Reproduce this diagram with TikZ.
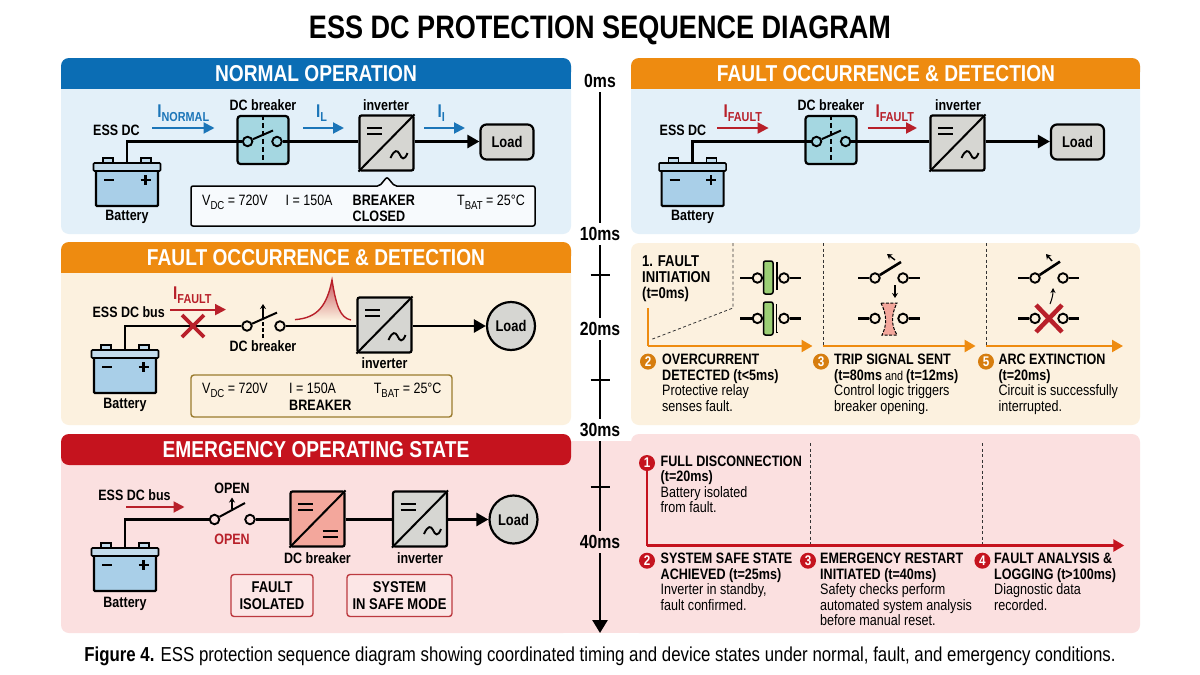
\documentclass[tikz,border=0pt]{standalone}
\usepackage{fontspec}
\setmainfont{Liberation Sans}[FakeStretch=0.833]
\usetikzlibrary{arrows.meta}
\definecolor{blueh}{HTML}{0B6DB4}
\definecolor{blueb}{HTML}{E3F0F9}
\definecolor{orah}{HTML}{EE8B10}
\definecolor{orab}{HTML}{FCF1DF}
\definecolor{redh}{HTML}{C5131E}
\definecolor{redb}{HTML}{FBE0E0}
\definecolor{flowb}{HTML}{1B75B8}
\definecolor{flowr}{HTML}{B8202A}
\definecolor{battc}{HTML}{A9CFE8}
\definecolor{capc}{HTML}{C3DCEC}
\definecolor{brkc}{HTML}{A5D7E1}
\definecolor{invc}{HTML}{D6D6D2}
\definecolor{salm}{HTML}{F3A79C}
\definecolor{gren}{HTML}{9CCF75}
\definecolor{goldb}{HTML}{9A7B2E}
\definecolor{redbox}{HTML}{BC3A40}
\newcommand{\fs}[2][1.1]{\dimen0=#2pt \dimen0=#1\dimen0 \fontsize{#2}{\the\dimen0}\selectfont}
\newcommand{\subtxt}[2][13]{\raisebox{-.24em}{\fontsize{#1}{#1}\selectfont #2}}
\tikzset{
  wire/.style={line width=2.6pt},
  wirea/.style={line width=2.6pt,-{Triangle[length=12pt,width=13pt]}},
  flowa/.style={line width=2pt,-{Triangle[length=11pt,width=11pt]}},
  contact/.style={circle,draw,line width=1.9pt,inner sep=0pt,minimum size=9.5pt},
  loadbox/.style={draw,line width=2.2pt,fill=invc,rounded corners=6pt,minimum width=53pt,minimum height=35pt,font=\fs{15.5}\bfseries},
  loadcirc/.style={circle,draw,line width=2.2pt,fill=invc,inner sep=0pt,minimum size=48pt,font=\fs{15.5}\bfseries},
  devlab/.style={font=\fs{15}\bfseries,inner sep=0pt},
  infotxt/.style={anchor=base west,font=\fs{15},inner sep=0pt},
  infobold/.style={anchor=base west,font=\fs{15.1}\bfseries,inner sep=0pt},
  headtxt/.style={font=\fs{23}\bfseries,text=white,inner sep=0pt},
  timelab/.style={font=\fs{19}\bfseries,inner sep=0pt,minimum height=22pt,minimum width=40pt},
  tline/.style={line width=2.6pt},
  steptxt/.style={anchor=north west,align=left,inner sep=0pt,font={\fs[1.03]{15.1}}},
  numo/.style={circle,fill=orah!90!black,text=white,inner sep=0pt,minimum size=16pt,font=\fs{14}\bfseries},
  numr/.style={circle,fill=redh,text=white,inner sep=0pt,minimum size=16pt,font=\fs{14}\bfseries},
  axiso/.style={line width=2.4pt,draw=orah},
  axisr/.style={line width=2.6pt,draw=redh},
  guide/.style={line width=.8pt,dashed,dash pattern=on 3pt off 2.5pt,draw=black!80},
  redtag/.style={draw=redbox,line width=1.4pt,rounded corners=3pt,fill=redb!80!white,align=center,font=\fs{15.6}\bfseries,inner sep=0pt},
}
% battery: name, centre x, top of cap
\newcommand{\battery}[3]{
\begin{scope}[shift={(#2,#3)}]
\draw[line width=1.6pt,fill=capc] (-24,-5) rectangle (-14,0) (14,-5) rectangle (24,0);
\draw[line width=2.2pt,fill=battc,rounded corners=1pt] (-31,4) rectangle (31,43);
\node (#1)[draw,line width=1.6pt,fill=capc,rounded corners=1pt,inner sep=0pt,minimum width=67pt,minimum height=8pt] at (0,4) {};
\draw[line width=2.2pt] (-23,17) -- (-13,17) (13.5,17) -- (23.5,17) (18.5,12) -- (18.5,22);
\end{scope}}
% converter box: name, centre x, centre y, fill
\newcommand{\conv}[4]{
\node (#1)[draw,line width=2.2pt,fill=#4,rounded corners=2pt,inner sep=0pt,minimum width=54pt,minimum height=55pt] at (#2,#3) {};
\draw[line width=2pt] (#1.south west) -- (#1.north east);
\draw[line width=1.8pt] (#2-19.5,#3-15) -- +(15,0) (#2-19.5,#3-9) -- +(15,0);
}
\newcommand{\acsym}[2]{\draw[line width=1.9pt] (#1+4,#2+15) .. controls (#1+8,#2+6) and (#1+11,#2+7) .. (#1+13,#2+11) .. controls (#1+15,#2+16) and (#1+18,#2+18) .. (#1+21,#2+10);}
\begin{document}
\begin{tikzpicture}[x=1pt,y=-1pt]
\useasboundingbox (0,0) rectangle (1200,675);
\fill[white] (0,0) rectangle (1200,675);
\node (TT)[font=\fs{32.5}\bfseries,inner sep=0pt] at (600,30) {ESS DC PROTECTION SEQUENCE DIAGRAM};

%%% panels
\fill[redb] (560,441) rectangle (640,633);
\fill[blueb,rounded corners=8pt] (61,58) rectangle (571,234);
\fill[orab,rounded corners=8pt] (61,242) rectangle (571,425);
\fill[redb,rounded corners=8pt] (61,434) rectangle (571,633);
\fill[blueb,rounded corners=8pt] (631,58) rectangle (1140,234);
\fill[orab,rounded corners=8pt] (631,243) rectangle (1140,425);
\fill[redb,rounded corners=8pt] (631,434) rectangle (1140,633);
\fill[blueh,rounded corners=8pt] (61,58) rectangle (571,80);
\fill[blueh] (61,70) rectangle (571,89);
\fill[orah,rounded corners=8pt] (61,242) rectangle (571,264);
\fill[orah] (61,254) rectangle (571,273);
\fill[redh,rounded corners=8pt] (61,434) rectangle (571,465);
\fill[orah,rounded corners=8pt] (631,58) rectangle (1140,80);
\fill[orah] (631,70) rectangle (1140,89);
\node (H1)[headtxt] at (316,74) {NORMAL OPERATION};
\node (H2)[headtxt] at (316,258) {FAULT OCCURRENCE \& DETECTION};
\node (H3)[headtxt] at (316,450) {EMERGENCY OPERATING STATE};
\node (H4)[headtxt] at (886,74) {FAULT OCCURRENCE \& DETECTION};

%%% time axis
\node (M0)[timelab] at (600,81) {0ms};
\node (M1)[timelab] at (600,234) {10ms};
\node (M2)[timelab] at (600,329) {20ms};
\node (M3)[timelab] at (600,430) {30ms};
\node (M4)[timelab] at (600,542) {40ms};
\coordinate (M5) at (600,633);
\draw[tline] (M0)--(M1);
\draw[tline] (M1)--(M2);
\draw[tline] (M2)--(M3);
\draw[tline] (M3)--(M4);
\draw[tline,-{Triangle[length=13pt,width=15pt]}] (M4)--(M5);
\draw[line width=1.4pt] (600,275) +(-9.5,0) -- +(9.5,0);
\draw[line width=1.4pt] (600,380) +(-9.5,0) -- +(9.5,0);
\draw[line width=1.4pt] (600,487) +(-9.5,0) -- +(9.5,0);

%%% normal operation
\battery{B1}{127}{163}
\node (Y1)[devlab] at (127,217) {Battery};
\node (E1)[devlab] at (116.5,130) {ESS DC};
\node (S1)[draw,line width=2.2pt,fill=brkc,rounded corners=3pt,inner sep=0pt,minimum width=51pt,minimum height=48pt] at (263,140) {};
\draw[line width=1.4pt,dashed,dash pattern=on 5pt off 3pt] (S1.north) -- (S1.south);
\node (K11)[contact] at (247.6,141.5) {};
\node (K12)[contact] at (277,141.5) {};
\coordinate (K13) at (273,130.5);
\draw[line width=2pt] (K11)--(K13);
\conv{V1}{386.5}{143}{invc}
\acsym{386.5}{143}
\node (L1)[loadbox] at (507,142) {Load};
\draw[wire] (B1.north) |- (K11);
\draw[wire] (K12)--(K12-|V1.west);
\draw[wirea] (V1.east|-K12)--(L1.west|-K12);
\node (D1)[devlab] at (263,105) {DC breaker};
\node (D2)[devlab] at (386,105) {inverter};
\draw (152,128) coordinate (A11) +(62.5,0) coordinate (A12);
\draw[flowa,draw=flowb] (A11)--(A12) node (F1)[pos=.5,above=2pt,text=flowb,font=\fs{18.4}\bfseries] {I\subtxt{NORMAL}};
\draw (303,128) coordinate (A21) +(41,0) coordinate (A22);
\draw[flowa,draw=flowb] (A21)--(A22) node (F2)[pos=.45,above=2pt,text=flowb,font=\fs{18.4}\bfseries] {I\subtxt{L}};
\draw (424,128) coordinate (A31) +(41,0) coordinate (A32);
\draw[flowa,draw=flowb] (A31)--(A32) node (F3)[pos=.42,above=2pt,text=flowb,font=\fs{18.4}\bfseries] {I\subtxt{I}};
\draw[line width=1.5pt,fill=white!70!blueb,rounded corners=2pt] (191,186) -- (379.5,186) -- (387,177) -- (394.6,186) -- (535,186) -- (535,226) -- (191,226) -- cycle;
\node (I11)[infotxt] at (202,205.5) {V\subtxt[11.5]{DC} = 720V};
\node (I12)[infotxt] at (285.5,205.5) {I = 150A};
\node (I13)[infobold] at (352.5,205.5) {BREAKER};
\node (I14)[infobold] at (352.5,221) {CLOSED};
\node (I15)[infotxt] at (457,205.5) {T\subtxt[11.5]{BAT} = 25°C};

%%% fault occurrence, left
\battery{B2}{125}{350}
\node (Y2)[devlab] at (125,405) {Battery};
\node (E2)[devlab] at (128.7,312) {ESS DC bus};
\node (K21)[contact] at (247,326) {};
\node (K22)[contact] at (280,326) {};
\coordinate (K23) at (277,312.6);
\draw[line width=2pt] (K21)--(K23);
\draw[line width=1.4pt,dashed,dash pattern=on 4pt off 2pt] (263,338) -- (263,318);
\draw[line width=1.4pt,-{Stealth[length=5pt,width=6pt]}] (263,318) -- (263,304);
\conv{V2}{384.5}{325}{invc}
\acsym{384.5}{325}
\node (L2)[loadcirc] at (511,326) {Load};
\draw[wire] (B2.north) |- (K21);
\draw[wire] (K22)--(K22-|V2.west);
\draw[wirea] (V2.east|-K22)--(L2.west);
\node (D3)[devlab] at (263,346.5) {DC breaker};
\node (D4)[devlab] at (384.5,363) {inverter};
\draw (170,309.6) coordinate (A41) +(56,0) coordinate (A42);
\draw[flowa,draw=flowr] (A41)--(A42) node (F4)[pos=.4,above=1.5pt,text=flowr,font=\fs{18.4}\bfseries] {I\subtxt{FAULT}};
\draw[line width=3.8pt,draw=flowr] (182,315) -- (204,337) (204,315) -- (182,337);
\shade[top color=flowr!75,bottom color=orab] (295,319.6) .. controls (318,318) and (327,305) .. (332,280) .. controls (336,305) and (340,318) .. (351,320) -- cycle;
\draw[line width=1.4pt,draw=flowr] (295,319.6) .. controls (318,318) and (327,305) .. (332,280) .. controls (336,305) and (340,318) .. (351,320);
\node (Q2)[draw=goldb,line width=1.4pt,rounded corners=3pt,inner sep=0pt,minimum width=261pt,minimum height=42pt] at (321.5,396) {};
\node (I21)[infotxt] at (202,393.5) {V\subtxt[11.5]{DC} = 720V};
\node (I22)[infotxt] at (289,393.5) {I = 150A};
\node (I23)[infobold] at (289,410.5) {BREAKER};
\node (I24)[infotxt] at (373.6,393.5) {T\subtxt[11.5]{BAT} = 25°C};

%%% emergency state
\battery{B3}{125}{548}
\node (Y3)[devlab] at (125,604) {Battery};
\node (E3)[devlab] at (134.5,495) {ESS DC bus};
\node (K31)[contact] at (214.5,519.5) {};
\node (K32)[contact] at (250,519.5) {};
\coordinate (K33) at (245,503);
\draw[line width=2pt] (K31)--(K33);
\node (O1)[devlab] at (232,488) {OPEN};
\node (O2)[devlab,text=flowr] at (232,539) {OPEN};
\draw[line width=1.3pt,-{Stealth[length=5pt,width=6pt]}] (232,509) -- (232,497.5);
\conv{S3}{317.5}{519}{salm}
\draw[line width=1.8pt] (322.5,531) -- +(15,0) (322.5,537) -- +(15,0);
\conv{V3}{420}{519}{invc}
\acsym{420}{519}
\node (L3)[loadcirc] at (513.5,519.5) {Load};
\draw[wire] (B3.north) |- (K31);
\draw[wire] (K32)--(K32-|S3.west);
\draw[wire] (S3.east|-K32)--(V3.west|-K32);
\draw[wirea] (V3.east|-K32)--(L3.west);
\node (D5)[devlab] at (317.5,558) {DC breaker};
\node (D6)[devlab] at (420,558) {inverter};
\draw (126,507) coordinate (A51) +(58.5,0) coordinate (A52);
\draw[flowa,draw=flowr] (A51)--(A52);
\node (R1)[redtag,minimum width=82pt,minimum height=42pt] at (272,595.5) {FAULT\\ISOLATED};
\node (R2)[redtag,minimum width=105pt,minimum height=42pt] at (399.5,595.5) {SYSTEM\\IN SAFE MODE};

%%% fault occurrence, right
\battery{B4}{692.6}{163}
\node (Y4)[devlab] at (692.6,217) {Battery};
\node (E4)[devlab] at (683,130) {ESS DC};
\node (S4)[draw,line width=2.2pt,fill=brkc,rounded corners=3pt,inner sep=0pt,minimum width=51pt,minimum height=48pt] at (831,140) {};
\draw[line width=1.4pt,dashed,dash pattern=on 5pt off 3pt] (S4.north) -- (S4.south);
\node (K41)[contact] at (816.5,141.5) {};
\node (K42)[contact] at (845.6,141.5) {};
\coordinate (K43) at (841,130.5);
\draw[line width=2pt] (K41)--(K43);
\conv{V4}{957.5}{143}{invc}
\acsym{957.5}{143}
\node (L4)[loadbox] at (1077.5,142) {Load};
\draw[wire] (B4.north) |- (K41);
\draw[wire] (K42)--(K42-|V4.west);
\draw[wirea] (V4.east|-K42)--(L4.west|-K42);
\node (D7)[devlab] at (831,105) {DC breaker};
\node (D8)[devlab] at (958,105) {inverter};
\draw (717,128) coordinate (A61) +(51.6,0) coordinate (A62);
\draw[flowa,draw=flowr] (A61)--(A62) node (F6)[pos=.5,above=2pt,text=flowr,font=\fs{18.4}\bfseries] {I\subtxt{FAULT}};
\draw (867.6,128) coordinate (A71) +(49.4,0) coordinate (A72);
\draw[flowa,draw=flowr] (A71)--(A72) node (F7)[pos=.55,above=2pt,text=flowr,font=\fs{18.4}\bfseries] {I\subtxt{FAULT}};

%%% detection timeline
\draw (733,243) coordinate (G1) (733,308) coordinate (G2) (650,340) coordinate (G3);
\draw[guide] (G1)--(G2)--(G3);
\draw (823,243) coordinate (G4) (823,346) coordinate (G5);
\draw[guide] (G4)--(G5);
\draw (986.5,243) coordinate (G6) (986.5,346) coordinate (G7);
\draw[guide] (G6)--(G7);
\draw (648,308) coordinate (P0) (648,346) coordinate (P1) +(164.5,0) coordinate (P2);
\draw (822.6,346) coordinate (P3) +(153,0) coordinate (P4);
\draw (986,346) coordinate (P5) +(137,0) coordinate (P6);
\draw[axiso] (P0)--(P1);
\draw[axiso,-{Triangle[length=11pt,width=12pt]}] (P1)--(P2);
\draw[axiso,-{Triangle[length=11pt,width=12pt]}] (P3)--(P4);
\draw[axiso,-{Triangle[length=11pt,width=12pt]}] (P5)--(P6);
\node (T0)[steptxt,font={\fs[1.05]{15.7}\bfseries}] at (642,255) {1. FAULT\\INITIATION\\(t=0ms)};

% first column of devices
\node (C11)[contact] at (757.4,278) {};
\node (C12)[contact] at (784,278) {};
\node (C13)[contact] at (757.4,318.4) {};
\node (C14)[contact] at (784,318.4) {};
\draw (740,278) coordinate (W11) (800.7,278) coordinate (W12) (740,318.4) coordinate (W13) (800.7,318.4) coordinate (W14);
\draw[wire] (W11)--(C11);
\draw[wire] (C12)--(W12);
\draw[wire] (W13)--(C13);
\draw[wire] (C14)--(W14);
\draw[line width=1.5pt,fill=gren,rounded corners=2pt] (763.5,261) rectangle (773,294);
\draw[line width=1.5pt,fill=gren,rounded corners=2pt] (763.5,302) rectangle (773,335);
\draw[line width=2pt] (777,262) -- (777,290);
\draw[line width=1pt] (776,304) -- (776,332) -- (778,332);

% second column of devices
\node (C21)[contact] at (875,278) {};
\node (C22)[contact] at (903,278) {};
\node (C23)[contact] at (875,318.4) {};
\node (C24)[contact] at (903,318.4) {};
\draw (858,278) coordinate (W21) (919.6,278) coordinate (W22) (858,318.4) coordinate (W23) (919.6,318.4) coordinate (W24) (901,262) coordinate (W25);
\draw[wire] (W21)--(C21);
\draw[wire] (C22)--(W22);
\draw[wire] (W23)--(C23);
\draw[wire] (C24)--(W24);
\draw[wire] (C21)--(W25);
\draw[line width=1.4pt,-{Stealth[length=5pt,width=6pt]}] (895,260) -- (887,254);
\draw[line width=1.3pt,-{Stealth[length=5pt,width=6pt]}] (895,285) -- (895,298);
\draw[line width=1pt,dashed,dash pattern=on 3pt off 1.5pt,fill=salm] (881,303) .. controls (887,315) and (887,325) .. (882,335) -- (897,335) .. controls (891,325) and (891,315) .. (897,303) -- cycle;

% third column of devices
\node (C31)[contact] at (1035,278) {};
\node (C32)[contact] at (1063,278) {};
\node (C33)[contact] at (1035,318.4) {};
\node (C34)[contact] at (1063,318.4) {};
\draw (1018,278) coordinate (W31) (1079.4,278) coordinate (W32) (1018,318.4) coordinate (W33) (1079.4,318.4) coordinate (W34) (1060,261.6) coordinate (W35);
\draw[wire] (W31)--(C31);
\draw[wire] (C32)--(W32);
\draw[wire] (W33)--(C33);
\draw[wire] (C34)--(W34);
\draw[wire] (C31)--(W35);
\draw[line width=1.4pt,-{Stealth[length=5pt,width=6pt]}] (1052,261) -- (1046,254);
\draw[line width=1pt,-{Stealth[length=5pt,width=5pt]}] (1050,304) .. controls (1052,299) and (1053,295) .. (1053,288);
\draw[line width=4.5pt,draw=flowr] (1036,305) -- (1062,332) (1062,305) -- (1036,332);

\node (N1)[numo] at (648,361.6) {2};
\node (N2)[numo] at (821,361.6) {3};
\node (N3)[numo] at (986,361.6) {5};
\node (T1)[steptxt] at (662,354) {{\bfseries OVERCURRENT}\\{\bfseries DETECTED (t<5ms)}\\Protective relay\\senses fault.};
\node (T2)[steptxt] at (834,354) {{\bfseries TRIP SIGNAL SENT}\\{\bfseries (t=80ms}{\fs{13} and }{\bfseries (t=12ms)}\\Control logic triggers\\breaker opening.};
\node (T3)[steptxt] at (998.3,354) {{\bfseries ARC EXTINCTION}\\{\bfseries (t=20ms)}\\Circuit is successfully\\interrupted.};

%%% emergency timeline
\draw (810,443) coordinate (G8) (810,545) coordinate (G9) (982.4,443) coordinate (G10) (982.4,545) coordinate (G11);
\draw[guide] (G8)--(G9);
\draw[guide] (G10)--(G11);
\node (N4)[numr] at (647,463) {1};
\coordinate (P7) at (647,545.5);
\coordinate (P8) at (1124.3,545.5);
\draw[axisr] (N4)--(P7);
\draw[axisr,-{Triangle[length=11pt,width=12pt]}] (P7)--(P8);
\node (N5)[numr] at (647,560.7) {2};
\node (N6)[numr] at (808,560.7) {3};
\node (N7)[numr] at (982.4,560.7) {4};
\node (T4)[steptxt] at (660.5,455.5) {{\bfseries FULL DISCONNECTION}\\{\bfseries (t=20ms)}\\Battery isolated\\from fault.};
\node (T5)[steptxt] at (660.5,553) {{\bfseries SYSTEM SAFE STATE}\\{\bfseries ACHIEVED (t=25ms)}\\Inverter in standby,\\fault confirmed.};
\node (T6)[steptxt] at (820,553) {{\bfseries EMERGENCY RESTART}\\{\bfseries INITIATED (t=40ms)}\\Safety checks perform\\automated system analysis\\before manual reset.};
\node (T7)[steptxt] at (994,553) {{\bfseries FAULT ANALYSIS \&}\\{\bfseries LOGGING (t>100ms)}\\Diagnostic data\\recorded.};

%%% caption
\node (CP)[font=\fs{20.2},inner sep=0pt] at (600,656) {{\bfseries Figure 4.} ESS protection sequence diagram showing coordinated timing and device states under normal, fault, and emergency conditions.};
\end{tikzpicture}
\end{document}
